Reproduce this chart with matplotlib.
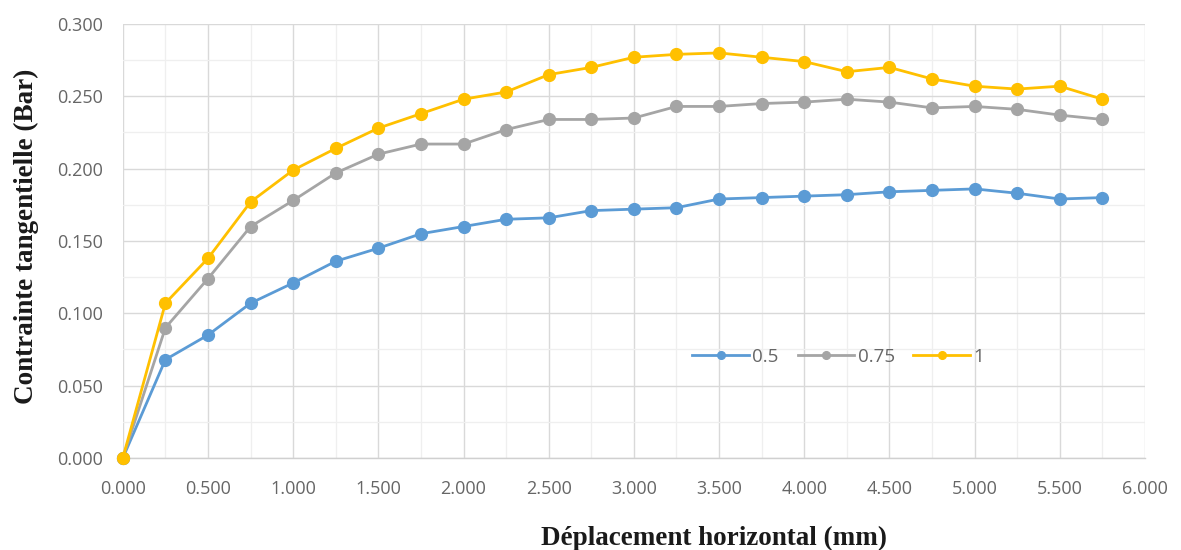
import matplotlib
matplotlib.use("Agg")
import matplotlib.pyplot as plt
from matplotlib.ticker import MultipleLocator, FormatStrFormatter

# Horizontal displacement (mm)
displacement = [0.00, 0.25, 0.50, 0.75, 1.00, 1.25, 1.50, 1.75, 2.00, 2.25, 2.50, 2.75,
                3.00, 3.25, 3.50, 3.75, 4.00, 4.25, 4.50, 4.75, 5.00, 5.25, 5.50, 5.75]

# Shear stress (Bar) for each normal load
stress_05 = [0.000, 0.068, 0.085, 0.107, 0.121, 0.136, 0.145, 0.155, 0.160, 0.165, 0.166, 0.171,
             0.172, 0.173, 0.179, 0.180, 0.181, 0.182, 0.184, 0.185, 0.186, 0.183, 0.179, 0.180]
stress_075 = [0.000, 0.090, 0.124, 0.160, 0.178, 0.197, 0.210, 0.217, 0.217, 0.227, 0.234, 0.234,
              0.235, 0.243, 0.243, 0.245, 0.246, 0.248, 0.246, 0.242, 0.243, 0.241, 0.237, 0.234]
stress_1 = [0.000, 0.107, 0.138, 0.177, 0.199, 0.214, 0.228, 0.238, 0.248, 0.253, 0.265, 0.270,
            0.277, 0.279, 0.280, 0.277, 0.274, 0.267, 0.270, 0.262, 0.257, 0.255, 0.257, 0.248]

series_labels = ["0.5", "0.75", "1"]
series_colors = ["#5B9BD5", "#A5A5A5", "#FFC000"]

x_ticks = [0.0, 0.5, 1.0, 1.5, 2.0, 2.5, 3.0, 3.5, 4.0, 4.5, 5.0, 5.5, 6.0]
y_ticks = [0.0, 0.05, 0.10, 0.15, 0.20, 0.25, 0.30]

fig = plt.figure(figsize=(11.81, 5.5), dpi=100)
ax = fig.add_axes([0.104, 0.1673, 0.8655, 0.7891])

for values, label, color in zip([stress_05, stress_075, stress_1], series_labels, series_colors):
    ax.plot(displacement, values, color=color, linewidth=2.0, marker="o",
            markersize=8.5, label=label, zorder=3, clip_on=False)

ax.set_xlim(0, 6)
ax.set_ylim(0, 0.3)
ax.set_xticks(x_ticks)
ax.set_yticks(y_ticks)
ax.xaxis.set_minor_locator(MultipleLocator(0.25))
ax.yaxis.set_minor_locator(MultipleLocator(0.025))
ax.xaxis.set_major_formatter(FormatStrFormatter("%.3f"))
ax.yaxis.set_major_formatter(FormatStrFormatter("%.3f"))

ax.grid(which="major", color="#D9D9D9", linewidth=1.0, zorder=0)
ax.grid(which="minor", color="#EFEFEF", linewidth=0.9, zorder=0)
ax.set_axisbelow(True)

for side in ["top", "right", "left"]:
    ax.spines[side].set_visible(False)
ax.spines["bottom"].set_color("#D0D0D0")
ax.spines["bottom"].set_linewidth(1.0)

ax.tick_params(which="both", length=0, labelsize=13, labelcolor="#666666")
ax.tick_params(axis="x", pad=16)
ax.tick_params(axis="y", pad=14)
for lbl in ax.get_xticklabels() + ax.get_yticklabels():
    lbl.set_fontfamily("Open Sans")

label_font = dict(family="Liberation Serif", fontweight="bold", fontsize=19.5, color="#1a1a1a")
fig.text(714 / 1181, 1 - 538 / 550, "Déplacement horizontal (mm)",
         ha="center", va="center", **label_font)
fig.text(26 / 1181, 1 - 236 / 550, "Contrainte tangentielle (Bar)",
         ha="center", va="center", rotation=90, **label_font)

leg = ax.legend(loc="center", bbox_to_anchor=(0.70, 0.233), ncol=3, frameon=False,
                handlelength=3.0, columnspacing=1.0, handletextpad=0.2, markerscale=0.65,
                prop=dict(family="Open Sans", size=13.5))
for txt in leg.get_texts():
    txt.set_color("#666666")

fig.savefig("out.png", dpi=100)
